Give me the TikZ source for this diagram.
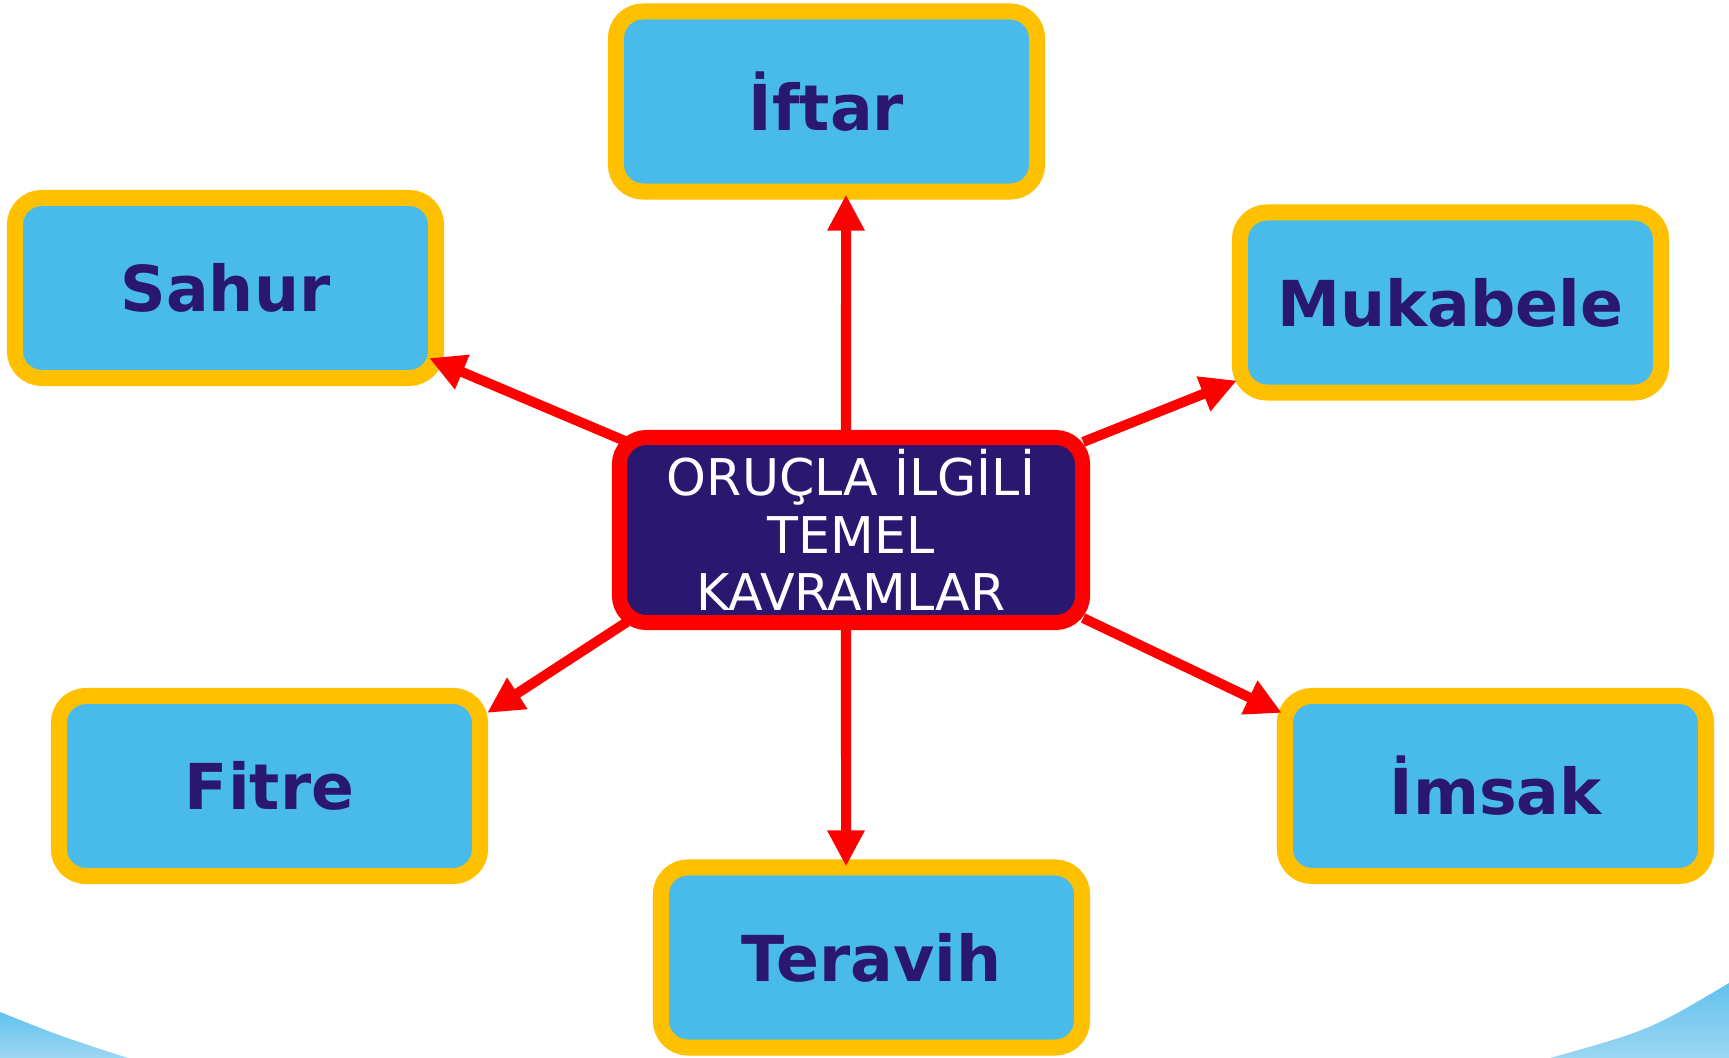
\documentclass[tikz,border=0pt]{standalone}
\usepackage{fontspec}
\setmainfont{DejaVu Sans}
\usetikzlibrary{arrows.meta,positioning}
\definecolor{kutumavi}{HTML}{49BBEB}
\definecolor{sari}{HTML}{FFC000}
\definecolor{lacivert}{HTML}{2A1770}
\definecolor{zeminust}{HTML}{62C2ED}
\definecolor{zeminalt}{HTML}{9CD6F3}

\begin{document}
\begin{tikzpicture}[x=0.01cm,y=-0.01cm,
    kavram/.style={rectangle,rounded corners=0.27cm,draw=sari,fill=kutumavi,
      line width=0.16cm,minimum width=4.21cm,minimum height=1.8cm,
      text=lacivert,font=\bfseries\fontsize{18}{22}\selectfont},
    merkez/.style={rectangle,rounded corners=0.27cm,draw=red,fill=lacivert,
      line width=0.15cm,minimum width=4.63cm,minimum height=1.81cm,
      text=white,align=center,font=\fontsize{14.4}{16.4}\selectfont},
    ok/.style={draw=red,line width=0.1cm,-{Triangle[length=0.36cm,width=0.35cm]}}]
    \useasboundingbox (0,0) rectangle (1729,1058);
    % zemin
    \shade[top color=zeminust,bottom color=zeminalt]
      (0,1012) .. controls (60,1036) .. (128,1058) -- (0,1058) -- cycle;
    \shade[top color=zeminust,bottom color=zeminalt]
      (1550,1058) .. controls (1650,1030) .. (1729,983) -- (1729,1058) -- cycle;
    \node[merkez] (oruc) at (851,530) {ORUÇLA İLGİLİ\\TEMEL\\KAVRAMLAR};
    \node[kavram] (iftar) at (826.5,101.5) {İftar};
    \node[kavram] (sahur) at (225.5,288) {Sahur};
    \node[kavram] (mukabele) at (1450.5,302.5) {Mukabele};
    \node[kavram] (fitre) at (269.5,786) {Fitre};
    \node[kavram] (imsak) at (1495.5,786) {İmsak};
    \node[kavram] (teravih) at (871.5,957.5) {Teravih};
    \draw[ok] ([xshift=-0.05cm]oruc.north) -- ([shift={(-5,-5)}]oruc.north |- iftar.south);
    \draw[ok] ([xshift=-0.05cm]oruc.south) -- ([shift={(-5,7)}]oruc.south |- teravih.north);
    \draw[ok] ([shift={(13,11)}]oruc.north west) -- ([shift={(-15,-28)}]sahur.south east);
    \draw[ok] ([shift={(-7,12)}]oruc.north east) -- ([shift={(5,-20)}]mukabele.south west);
    \draw[ok] ([shift={(15,-8)}]oruc.south west) -- ([shift={(-1,25)}]fitre.north east);
    \draw[ok] ([shift={(-7,-12)}]oruc.south east) -- ([shift={(5,25)}]imsak.north west);
\end{tikzpicture}
\end{document}
